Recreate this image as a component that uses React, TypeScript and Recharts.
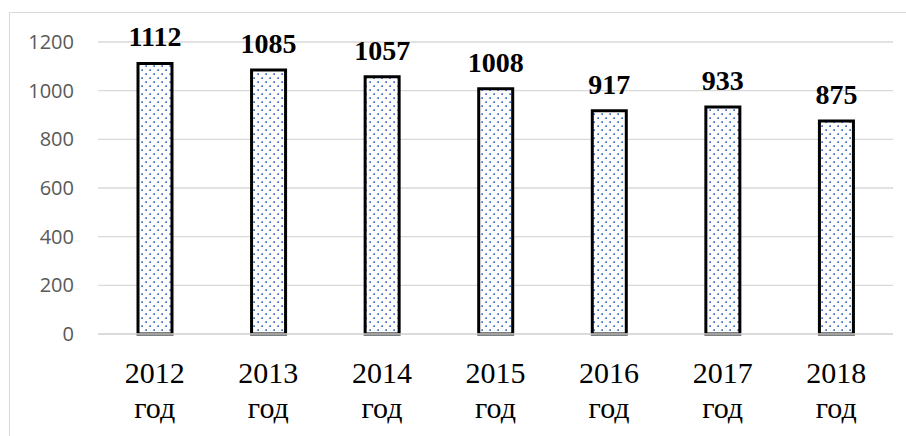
import { BarChart, Bar, XAxis, YAxis, CartesianGrid, LabelList } from 'recharts'

const years = ['2012', '2013', '2014', '2015', '2016', '2017', '2018']
const counts = [1112, 1085, 1057, 1008, 917, 933, 875]
const yTicks = [0, 200, 400, 600, 800, 1000, 1200]

const data = years.map((y, i) => ({ year: y, value: counts[i] }))

const serif = '"Liberation Serif", "Times New Roman", serif'

// eslint-disable-next-line @typescript-eslint/no-explicit-any
function YearTick({ x, y, payload }: any) {
  return (
    <text x={x} y={y} textAnchor="middle" fill="#000" fontFamily={serif} fontSize={30}>
      <tspan x={x} dy={49}>{payload.value}</tspan>
      <tspan x={x} dy={35}>год</tspan>
    </text>
  )
}

export default function App() {
  return (
    <div
      style={{
        position: 'absolute',
        left: 0,
        top: 0,
        width: 906,
        height: 436,
        overflow: 'hidden',
        background: '#fff',
      }}
    >
      <div
        style={{
          position: 'absolute',
          left: 9,
          top: 12,
          width: 920,
          height: 460,
          border: '1px solid #d9d9d9',
        }}
      />
      <div style={{ position: 'absolute', left: 0, top: 0 }}>
        <BarChart
          width={906}
          height={436}
          data={data}
          margin={{ top: 42, right: 13, bottom: 0, left: 0 }}
          barCategoryGap="33%"
        >
          <defs>
            <pattern id="dots" width="8" height="8" patternUnits="userSpaceOnUse">
              <rect width="8" height="8" fill="#fff" />
              <rect x="1.3" y="1.3" width="1.7" height="1.7" fill="#3e6cc6" />
              <rect x="5.3" y="5.3" width="1.7" height="1.7" fill="#3e6cc6" />
            </pattern>
          </defs>
          <CartesianGrid vertical={false} stroke="#d9d9d9" strokeWidth={1.3} />
          <XAxis
            dataKey="year"
            height={102}
            axisLine={{ stroke: '#d9d9d9', strokeWidth: 1.3 }}
            tickLine={false}
            tickSize={0}
            tickMargin={0}
            interval={0}
            tick={<YearTick />}
          />
          <YAxis
            width={98}
            domain={[0, 1200]}
            ticks={yTicks}
            axisLine={false}
            tickLine={false}
            tickSize={0}
            tickMargin={24}
            tick={{ fill: '#595959', fontSize: 20, fontFamily: '"Open Sans", sans-serif' }}
          />
          <Bar
            dataKey="value"
            fill="url(#dots)"
            stroke="#000"
            strokeWidth={3}
            barSize={34}
            isAnimationActive={false}
          >
            <LabelList
              dataKey="value"
              position="top"
              offset={17}
              fill="#000"
              fontFamily={serif}
              fontSize={28}
              fontWeight="bold"
            />
          </Bar>
        </BarChart>
      </div>
    </div>
  )
}
